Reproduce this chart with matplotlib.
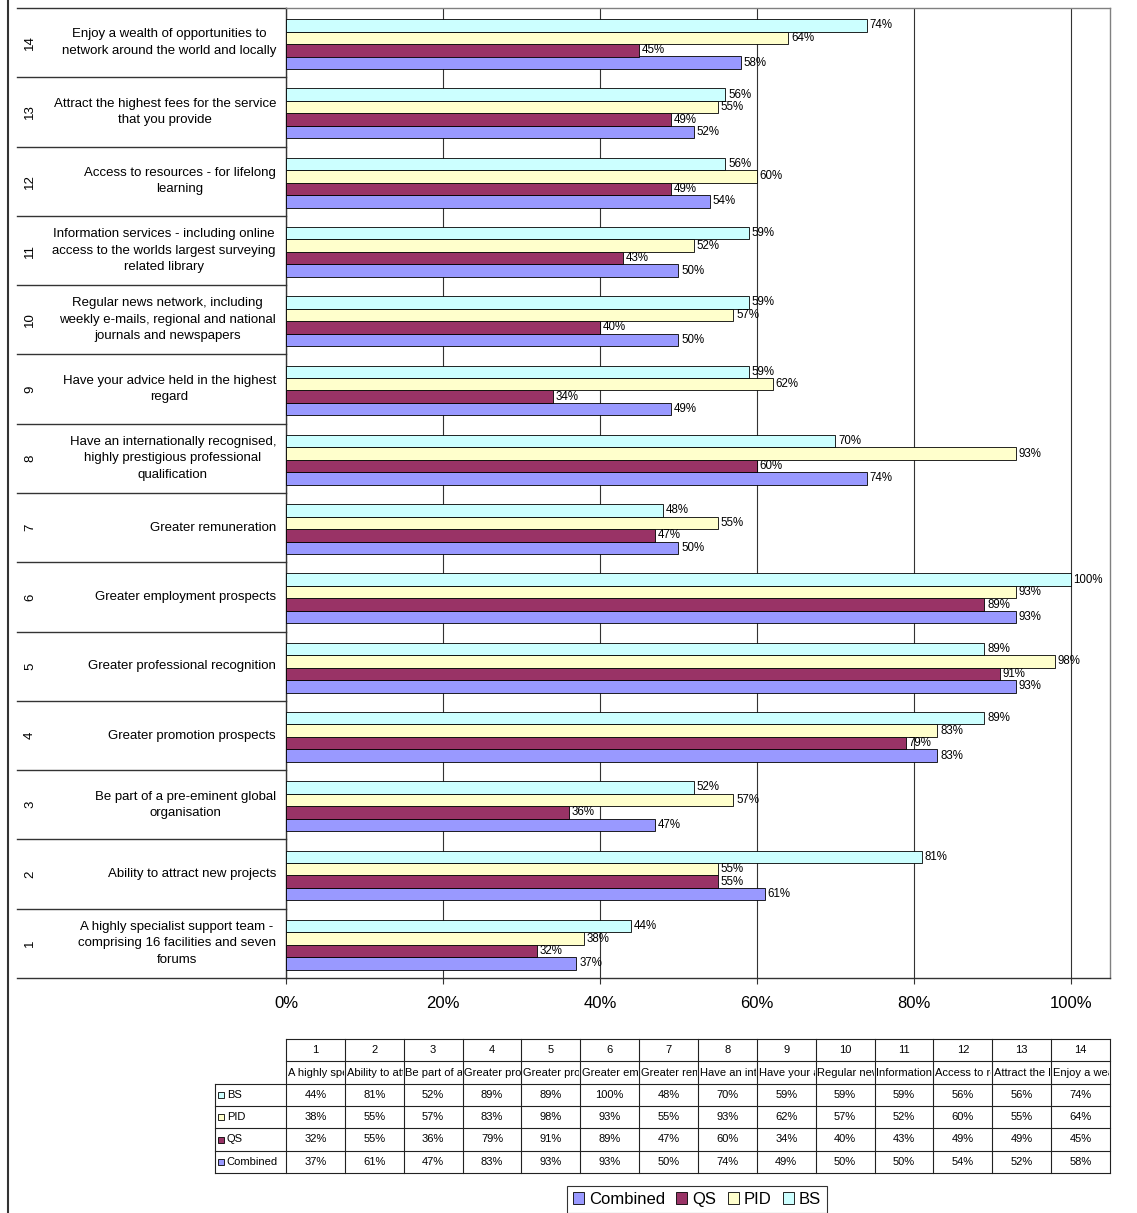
import numpy as np
import matplotlib
matplotlib.use("Agg")
import matplotlib.pyplot as plt
from matplotlib.patches import Patch
from matplotlib.lines import Line2D
import matplotlib.transforms as mtransforms

plt.rcParams['font.family'] = ['Liberation Sans', 'DejaVu Sans']

# ---------------- data ----------------
categories = [
    "A highly specialist support team -\ncomprising 16 facilities and seven\nforums",
    "Ability to attract new projects",
    "Be part of a pre-eminent global\norganisation",
    "Greater promotion prospects",
    "Greater professional recognition",
    "Greater employment prospects",
    "Greater remuneration",
    "Have an internationally recognised,\nhighly prestigious professional\nqualification",
    "Have your advice held in the highest\nregard",
    "Regular news network, including\nweekly e-mails, regional and national\njournals and newspapers",
    "Information services - including online\naccess to the worlds largest surveying\nrelated library",
    "Access to resources - for lifelong\nlearning",
    "Attract the highest fees for the service\nthat you provide",
    "Enjoy a wealth of opportunities to\nnetwork around the world and locally",
]
category_numbers = [str(i) for i in range(1, 15)]
BS = [44, 81, 52, 89, 89, 100, 48, 70, 59, 59, 59, 56, 56, 74]
PID = [38, 55, 57, 83, 98, 93, 55, 93, 62, 57, 52, 60, 55, 64]
QS = [32, 55, 36, 79, 91, 89, 47, 60, 34, 40, 43, 49, 49, 45]
Combined = [37, 61, 47, 83, 93, 93, 50, 74, 49, 50, 50, 54, 52, 58]
series_names = ["Combined", "QS", "PID", "BS"]
x_ticks = [0, 20, 40, 60, 80, 100]
x_tick_labels = ["0%", "20%", "40%", "60%", "80%", "100%"]

colors = {"Combined": "#9999FF", "QS": "#993366", "PID": "#FFFFCC", "BS": "#CCFFFF"}
values = {"Combined": Combined, "QS": QS, "PID": PID, "BS": BS}

# ---------------- figure ----------------
W, H = 1137, 1213
fig = plt.figure(figsize=(W / 100, H / 100), dpi=100)
fx = lambda px: px / W
fy = lambda py: 1 - py / H

ax_l, ax_r, ax_t, ax_b = 286, 1110, 8, 978
ax = fig.add_axes([fx(ax_l), fy(ax_b), (ax_r - ax_l) / W, (ax_b - ax_t) / H])

n = len(categories)
y = np.arange(n)
bh = 0.18
offsets = {"Combined": -0.29, "QS": -0.11, "PID": 0.07, "BS": 0.25}
for name in series_names:
    vals = np.array(values[name]) / 100.0
    ax.barh(y + offsets[name], vals, height=bh, color=colors[name],
            edgecolor="black", linewidth=0.6, zorder=3)
    for yi, v in zip(y, values[name]):
        ax.annotate(f"{v}%", (v / 100.0, yi + offsets[name]), xytext=(2, 0),
                    textcoords="offset points", ha="left", va="center",
                    fontsize=8.3, zorder=4)

ax.set_xlim(0, 1.05)
ax.set_ylim(-0.5, n - 0.5)
ax.set_xticks(np.array(x_ticks) / 100.0)
ax.set_xticklabels(x_tick_labels, fontsize=12)
ax.set_yticks([])
ax.tick_params(axis="x", length=4, width=0.8, pad=9, color="#333333")
ax.xaxis.grid(True, color="#333333", linewidth=0.8, zorder=0)
ax.set_axisbelow(True)
for s in ["top", "right"]:
    ax.spines[s].set_color("#808080")
    ax.spines[s].set_linewidth(1.0)
for s in ["left", "bottom"]:
    ax.spines[s].set_color("#333333")
    ax.spines[s].set_linewidth(1.0)

# category axis labels / separators
blend = mtransforms.blended_transform_factory(ax.transAxes, ax.transData)
span = ax_r - ax_l
x_sep0 = (17 - ax_l) / span
for b in np.arange(-0.5, n, 1.0):
    ax.plot([x_sep0, 0], [b, b], transform=blend, color="#333333",
            linewidth=1.0, clip_on=False)
for i, (num, lab) in enumerate(zip(category_numbers, categories)):
    ax.text((276 - ax_l) / span, i, lab, transform=blend, ha="right", va="center",
            multialignment="center", fontsize=9.5, linespacing=1.5)
    ax.text((30 - ax_l) / span, i, num, transform=blend, ha="center", va="center",
            rotation=90, fontsize=9.5)

# ---------------- data table ----------------
t_l, t_r, t_t, t_b = 215, 1110, 1039, 1173
tax = fig.add_axes([fx(t_l), fy(t_b), (t_r - t_l) / W, (t_b - t_t) / H])
colw = (t_r - ax_l) / n
w0 = (ax_l - t_l) / colw
tax.set_xlim(-w0, n)
tax.set_ylim(0, 6)
tax.axis("off")
lc, lw = "#222222", 0.8
for yy in [0, 1, 2, 3, 4]:
    tax.plot([-w0, n], [yy, yy], color=lc, lw=lw, clip_on=False)
for yy in [5, 6]:
    tax.plot([0, n], [yy, yy], color=lc, lw=lw, clip_on=False)
tax.plot([-w0, -w0], [0, 4], color=lc, lw=lw, clip_on=False)
for xx in range(n + 1):
    tax.plot([xx, xx], [0, 6], color=lc, lw=lw, clip_on=False)

for j in range(n):
    tax.text(j + 0.5, 5.5, category_numbers[j], ha="center", va="center", fontsize=8)
    t = tax.text(j + 0.03, 4.5, categories[j].replace("\n", " "), ha="left",
                 va="center", fontsize=8)
    cell_box = mtransforms.TransformedBbox(
        mtransforms.Bbox([[j, 4], [j + 0.985, 5]]), tax.transData)
    t.set_clip_path(None)
    t.set_clip_box(cell_box)
    t.set_clip_on(True)
rows_order = ["BS", "PID", "QS", "Combined"]
for r, name in enumerate(rows_order):
    yy = 3.5 - r
    for j, v in enumerate(values[name]):
        tax.text(j + 0.5, yy, f"{v}%", ha="center", va="center", fontsize=8)
    tax.plot([-w0 + 0.1], [yy], marker="s", markersize=5, markerfacecolor=colors[name],
             markeredgecolor="black", markeredgewidth=0.6, clip_on=False)
    tax.text(-w0 + 0.2, yy, name, ha="left", va="center", fontsize=8)

# ---------------- legend ----------------
handles = [Patch(facecolor=colors[nm], edgecolor="black", linewidth=0.6, label=nm)
           for nm in series_names]
leg = fig.legend(handles=handles, loc="upper left", bbox_to_anchor=(fx(567), fy(1186)),
                 ncol=4, frameon=True, fancybox=False, edgecolor="black", fontsize=12,
                 handlelength=0.65, handleheight=0.65, handletextpad=0.3,
                 columnspacing=0.7, borderpad=0.35, borderaxespad=0)
leg.get_frame().set_linewidth(0.8)

# outer left border
fig.add_artist(Line2D([fx(7.5), fx(7.5)], [0, 1], transform=fig.transFigure,
                      color="#333333", linewidth=1.5))

fig.savefig("out.png", dpi=100)
